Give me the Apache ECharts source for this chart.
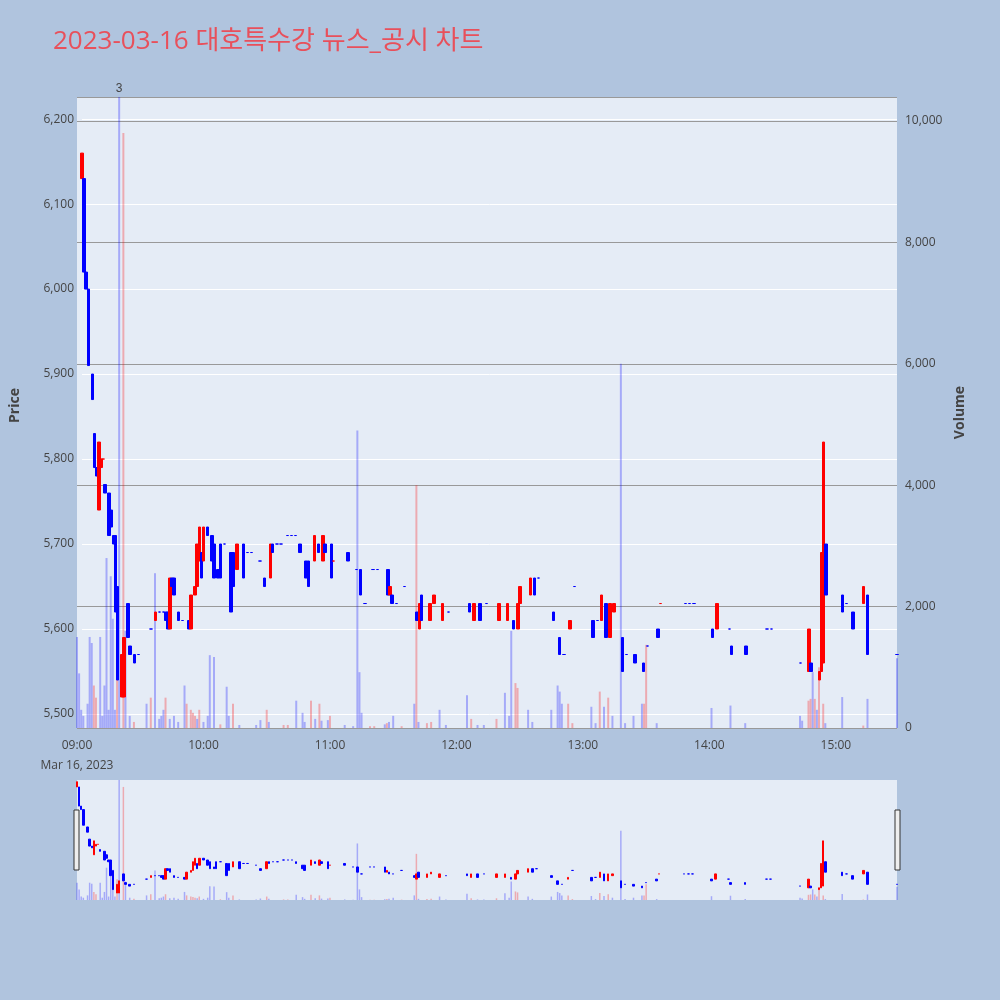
<!DOCTYPE html>
<html lang="ko">
<head>
<meta charset="UTF-8">
<title>대호특수강 뉴스_공시 차트</title>
<script src="https://cdn.jsdelivr.net/npm/echarts/dist/echarts.min.js"></script>
<style>body{margin:0;background:#b0c4de;}</style>
</head>
<body>
<div id="main" style="width:1000px;height:1000px;"></div>
<script>
// minutes from 09:00 to 15:29
var times = [];
for (var i = 0; i < 390; i++) {
    var h = 9 + Math.floor(i / 60), m = i % 60;
    times.push((h < 10 ? '0' : '') + h + ':' + (m < 10 ? '0' : '') + m);
}

// [minute, open, close, low, high]
var candles = [
    [0,6130,6160,6130,6160],[1,6130,6020,6020,6130],[2,6020,6000,6000,6020],[3,6000,5910,5910,6000],
    [5,5900,5870,5870,5900],[6,5830,5790,5800,5830],[7,5790,5780,5780,5790],[8,5740,5820,5740,5820],
    [9,5790,5800,5790,5800],[10,5800,5800,5800,5800],[11,5770,5760,5760,5770],[13,5760,5710,5710,5760],
    [14,5740,5720,5720,5740],[15,5710,5700,5700,5710],[16,5710,5620,5620,5710],[17,5650,5540,5540,5650],
    [19,5520,5570,5520,5570],[20,5520,5590,5520,5590],[22,5630,5590,5590,5630],[23,5580,5570,5570,5580],
    [25,5570,5560,5560,5570],[27,5570,5570,5570,5570],[33,5600,5600,5600,5600],[35,5610,5620,5610,5620],
    [37,5620,5620,5620,5620],[39,5620,5620,5620,5620],[40,5620,5610,5610,5620],[41,5620,5600,5600,5620],
    [42,5600,5660,5600,5660],[43,5660,5650,5650,5660],[44,5660,5640,5640,5660],[46,5620,5610,5610,5620],
    [48,5610,5610,5610,5610],[51,5610,5600,5600,5610],[52,5600,5640,5600,5640],[54,5640,5650,5640,5650],
    [55,5650,5700,5650,5700],[56,5680,5720,5680,5720],[57,5690,5660,5660,5690],[58,5680,5720,5680,5720],
    [60,5720,5710,5710,5720],[62,5710,5680,5680,5710],[63,5700,5660,5660,5700],[65,5670,5660,5660,5670],
    [66,5700,5660,5660,5700],[68,5700,5700,5700,5700],[71,5690,5620,5620,5690],[72,5690,5650,5650,5690],
    [74,5670,5700,5670,5700],[77,5700,5660,5660,5700],[79,5690,5690,5690,5690],[81,5690,5690,5690,5690],
    [85,5680,5680,5680,5680],[87,5660,5650,5650,5660],[90,5660,5700,5660,5700],[91,5700,5690,5690,5700],
    [93,5700,5700,5700,5700],[95,5700,5700,5700,5700],[98,5710,5710,5710,5710],[100,5710,5710,5710,5710],
    [102,5710,5710,5710,5710],[104,5700,5690,5690,5700],[107,5680,5660,5660,5680],[108,5680,5650,5650,5680],
    [111,5680,5710,5680,5710],[113,5700,5690,5690,5700],[115,5680,5710,5680,5710],[116,5700,5690,5690,5700],
    [119,5700,5660,5660,5700],[120,5680,5680,5680,5680],[127,5690,5680,5680,5690],[131,5670,5670,5670,5670],
    [133,5670,5640,5640,5670],[135,5630,5630,5630,5630],[139,5670,5670,5670,5670],[141,5670,5670,5670,5670],
    [146,5670,5640,5640,5670],[147,5640,5650,5640,5650],[148,5640,5630,5630,5640],[150,5630,5630,5630,5630],
    [154,5650,5650,5650,5650],[160,5620,5610,5610,5620],[161,5600,5630,5600,5630],[162,5640,5610,5610,5640],
    [166,5610,5630,5610,5630],[168,5630,5640,5630,5640],[172,5610,5630,5610,5630],[175,5620,5620,5620,5620],
    [185,5630,5620,5620,5630],[187,5610,5630,5610,5630],[190,5630,5610,5610,5630],[193,5630,5630,5630,5630],
    [199,5610,5630,5610,5630],[203,5610,5630,5610,5630],[206,5610,5600,5600,5610],[208,5600,5630,5600,5630],
    [209,5630,5650,5630,5650],[214,5640,5660,5640,5660],[216,5660,5640,5640,5660],[218,5660,5660,5660,5660],
    [225,5620,5610,5610,5620],[228,5590,5570,5570,5590],[230,5570,5570,5570,5570],[233,5600,5610,5600,5610],
    [235,5650,5650,5650,5650],[244,5610,5590,5590,5610],[246,5610,5610,5610,5610],[248,5610,5640,5610,5640],
    [250,5630,5590,5590,5630],[252,5590,5630,5590,5630],[254,5620,5630,5620,5630],[258,5590,5550,5550,5590],
    [260,5570,5570,5570,5570],[264,5570,5560,5560,5570],[268,5560,5550,5550,5560],[270,5580,5580,5580,5580],
    [275,5600,5590,5590,5600],[276,5630,5630,5630,5630],[288,5630,5630,5630,5630],[290,5630,5630,5630,5630],
    [292,5630,5630,5630,5630],[301,5600,5590,5590,5600],[303,5600,5630,5600,5630],[309,5600,5600,5600,5600],
    [310,5580,5570,5570,5580],[317,5580,5570,5570,5580],[327,5600,5600,5600,5600],[329,5600,5600,5600,5600],
    [343,5560,5560,5560,5560],[347,5550,5600,5550,5600],[348,5560,5550,5550,5560],[352,5540,5550,5540,5550],
    [353,5550,5690,5550,5690],[354,5560,5820,5560,5820],[355,5700,5640,5640,5700],[363,5640,5620,5620,5640],
    [365,5630,5630,5630,5630],[368,5620,5600,5600,5620],[373,5630,5650,5630,5650],[375,5640,5570,5570,5640],
    [389,5570,5570,5570,5570]
];

// [minute, volume, up(1)/down(0)]
var volumes = [
    [0,1500,0],[1,900,0],[2,300,0],[3,200,0],[5,400,0],[6,1500,0],[7,1400,0],[8,700,1],[9,500,1],
    [11,1500,0],[12,200,0],[13,700,0],[14,2800,0],[15,300,0],[16,2500,0],[17,1800,0],[18,300,0],
    [19,1800,1],[20,10400,0],[22,9800,1],[23,1600,0],[25,200,0],[27,100,1],[33,400,0],[35,500,1],
    [37,2550,0],[39,150,0],[40,200,0],[41,300,0],[42,500,1],[44,150,0],[46,200,0],[48,100,0],
    [51,700,0],[52,400,1],[54,300,1],[55,250,1],[56,200,1],[57,150,0],[58,300,1],[60,100,0],
    [62,200,0],[63,1200,0],[65,1170,0],[68,60,1],[71,680,0],[72,200,0],[74,400,1],[77,50,0],
    [85,50,0],[87,130,0],[90,300,1],[91,100,0],[98,50,1],[100,50,1],[104,450,0],[107,250,0],
    [108,100,0],[111,450,1],[113,150,0],[115,400,1],[116,120,0],[119,130,0],[120,200,1],[127,50,0],
    [131,30,0],[133,4900,0],[134,920,0],[135,250,0],[139,30,1],[141,30,1],[146,60,0],[147,80,1],
    [148,100,0],[150,200,0],[154,30,1],[160,400,0],[161,4000,1],[162,100,0],[166,80,1],[168,100,1],
    [172,300,0],[175,50,0],[185,540,0],[187,150,1],[190,50,0],[193,50,0],[199,150,1],[203,580,0],
    [205,200,0],[206,1600,0],[208,740,1],[209,660,1],[214,300,0],[216,100,0],[225,300,0],[228,700,0],
    [229,600,0],[230,400,0],[233,400,1],[235,80,1],[244,350,0],[246,80,0],[248,600,1],[250,350,0],
    [252,500,1],[254,200,0],[258,6000,0],[260,80,0],[264,200,0],[268,400,0],[269,400,1],[270,1370,1],
    [275,80,0],[301,330,0],[310,370,0],[317,80,0],[343,200,0],[344,120,0],[347,450,1],[348,480,1],
    [349,920,0],[350,480,1],[351,300,0],[352,1000,1],[354,400,1],[355,80,0],[363,510,0],[373,40,1],
    [375,480,0],[389,1150,0]
];

// text annotation on the volume spike
var notes = [[20, '3']];

var UP = '#ff0000', DOWN = '#0000ff';

var candleData = times.map(function () { return '-'; });
candles.forEach(function (c) { candleData[c[0]] = [c[1], c[2], c[3], c[4]]; });

var volData = times.map(function () { return '-'; });
volumes.forEach(function (v) {
    var item = { value: v[1], itemStyle: { color: v[2] ? 'rgba(255,0,0,0.28)' : 'rgba(0,0,255,0.28)' } };
    notes.forEach(function (n) {
        if (n[0] === v[0]) item.label = { show: true, position: 'top', formatter: n[1], color: '#444', fontSize: 12, distance: 2 };
    });
    volData[v[0]] = item;
});

var font = 'Open Sans, Noto Sans CJK KR, sans-serif';

function xAxisOf(idx, show) {
    return {
        type: 'category', gridIndex: idx, data: times, boundaryGap: false,
        axisLine: { show: false }, axisTick: { show: false }, splitLine: { show: false },
        axisLabel: {
            show: show, color: '#444', fontSize: 12, fontFamily: font,
            interval: function (i) { return i % 60 === 0; },
            formatter: function (v, i) { return i === 0 ? v + '\n' + 'Mar 16, 2023' : v; },
            lineHeight: 20
        }
    };
}

var chart = echarts.init(document.getElementById('main'));
chart.setOption({
    backgroundColor: '#b0c4de',
    animation: false,
    title: {
        text: '2023-03-16 대호특수강 뉴스_공시 차트', left: 48, top: 24,
        textStyle: { color: '#e8505b', fontSize: 26, fontWeight: 'normal', fontFamily: font }
    },
    grid: [
        { left: 77, right: 103, top: 97, height: 617, show: false },
        { left: 77, right: 103, top: 97, height: 631, show: true, backgroundColor: '#e5ecf6', borderWidth: 0, z: -1 },
        { left: 77, right: 103, top: 780, height: 120, show: true, backgroundColor: '#e5ecf6', borderWidth: 0 },
        { left: 77, right: 103, top: 780, height: 120, show: false }
    ],
    xAxis: [xAxisOf(0, false), xAxisOf(1, true), xAxisOf(2, false), xAxisOf(3, false)],
    yAxis: [
        {
            type: 'value', gridIndex: 0, min: 5500, max: 6226, interval: 100, position: 'left',
            name: 'Price', nameLocation: 'middle', nameGap: 60,
            nameTextStyle: { color: '#444', fontSize: 14, fontWeight: 'bold', fontFamily: font },
            axisLabel: { color: '#444', fontSize: 12, fontFamily: font, showMaxLabel: false },
            splitLine: { lineStyle: { color: '#ffffff', width: 1 } }
        },
        {
            type: 'value', gridIndex: 1, min: 0, max: 10395, interval: 2000, position: 'right',
            name: 'Volume', nameLocation: 'middle', nameGap: 55, nameRotate: 90,
            nameTextStyle: { color: '#444', fontSize: 14, fontWeight: 'bold', fontFamily: font },
            axisLabel: { color: '#444', fontSize: 12, fontFamily: font, showMaxLabel: false },
            splitLine: { lineStyle: { color: '#999', width: 1 } }
        },
        { type: 'value', gridIndex: 2, min: 5480, max: 6170, show: false, splitLine: { show: false } },
        { type: 'value', gridIndex: 3, min: 0, max: 10400, show: false, splitLine: { show: false } }
    ],
    series: [
        {
            type: 'bar', xAxisIndex: 1, yAxisIndex: 1, data: volData, barWidth: 2, z: 1
        },
        {
            type: 'candlestick', xAxisIndex: 0, yAxisIndex: 0, data: candleData, barWidth: 3, z: 3,
            itemStyle: { color: UP, color0: DOWN, borderColor: UP, borderColor0: DOWN, borderWidth: 1 }
        },
        {
            type: 'bar', xAxisIndex: 3, yAxisIndex: 3, data: volData.map(function (d) { return d === '-' ? d : { value: d.value, itemStyle: d.itemStyle }; }), barWidth: 1.5
        },
        {
            type: 'candlestick', xAxisIndex: 2, yAxisIndex: 2, data: candleData, barWidth: 2,
            itemStyle: { color: UP, color0: DOWN, borderColor: UP, borderColor0: DOWN, borderWidth: 1 }
        }
    ],
    graphic: [
        { type: 'rect', shape: { x: 74, y: 810, width: 5, height: 60 }, style: { fill: '#eee', stroke: '#333', lineWidth: 1 } },
        { type: 'rect', shape: { x: 895, y: 810, width: 5, height: 60 }, style: { fill: '#eee', stroke: '#333', lineWidth: 1 } }
    ]
});
</script>
</body>
</html>
